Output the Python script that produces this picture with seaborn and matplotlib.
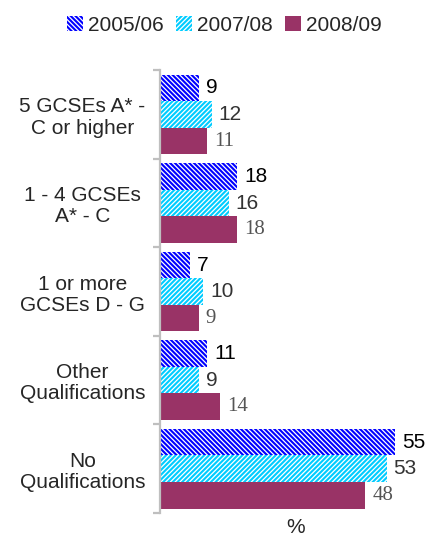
import matplotlib
matplotlib.use("Agg")
import matplotlib.pyplot as plt
from matplotlib.patches import Patch
import seaborn as sns
import pandas as pd

categories = [
    "5 GCSEs A* -\nC or higher",
    "1 - 4 GCSEs\nA* - C",
    "1 or more\nGCSEs D - G",
    "Other\nQualifications",
    "No\nQualifications",
]
years = ["2005/06", "2007/08", "2008/09"]
values_2005 = [9, 18, 7, 11, 55]
values_2007 = [12, 16, 10, 9, 53]
values_2008 = [11, 18, 9, 14, 48]

df = pd.DataFrame({
    "category": categories * 3,
    "year": [y for y in years for _ in categories],
    "value": values_2005 + values_2007 + values_2008,
})

sns.set_theme(style="white")
plt.rcParams["font.family"] = ["Liberation Sans", "DejaVu Sans"]
plt.rcParams["hatch.linewidth"] = 0.9

face_colors = {"2005/06": "#0000FF", "2007/08": "#00CCFF", "2008/09": "#993366"}
hatches = {"2005/06": "\\" * 7, "2007/08": "/" * 7, "2008/09": None}
label_styles = {
    "2005/06": dict(color="#000000", family="Liberation Sans"),
    "2007/08": dict(color="#333333", family="Liberation Sans"),
    "2008/09": dict(color="#555555", family="Liberation Serif"),
}

fig = plt.figure(figsize=(4.32, 5.40), dpi=100)
ax = fig.add_axes([0.371, 0.05, 0.593, 0.82])

sns.barplot(data=df, y="category", x="value", hue="year", hue_order=years,
            order=categories, orient="h", width=0.9, palette=face_colors,
            legend=False, ax=ax, saturation=1)

for year, container in zip(years, ax.containers):
    for bar in container:
        bar.set_facecolor(face_colors[year])
        if hatches[year]:
            bar.set_hatch(hatches[year])
            bar.set_edgecolor("white")
        else:
            bar.set_edgecolor(face_colors[year])
        bar.set_linewidth(0)
    ax.bar_label(container, labels=[f"{v:g}" for v in container.datavalues],
                 padding=5, fontsize=15, **label_styles[year])

ax.set_xlim(0, 60)
ax.set_ylim(len(categories) - 0.5, -0.5)
ax.set_xticks([])
ax.set_ylabel("")
ax.set_xlabel("%", fontsize=15)
ax.xaxis.set_label_coords(0.53, -0.012, transform=ax.transAxes)
ax.xaxis.label.set_verticalalignment("top")

for side in ("top", "right", "bottom"):
    ax.spines[side].set_visible(False)
ax.spines["left"].set_color("#BFBFBF")
ax.spines["left"].set_linewidth(1.6)

# tick marks sit between the categories, labels centred on each group
ax.set_yticks([i - 0.5 for i in range(len(categories) + 1)], minor=True)
ax.tick_params(axis="y", which="minor", length=5, width=1.6, color="#BFBFBF",
               direction="out", left=True)
ax.tick_params(axis="y", which="major", length=0, pad=56, labelsize=15)
for lbl in ax.get_yticklabels():
    lbl.set_horizontalalignment("center")
    lbl.set_multialignment("center")
    lbl.set_linespacing(1.15)

handles = []
for year in years:
    if hatches[year]:
        handles.append(Patch(facecolor=face_colors[year], edgecolor="white",
                             hatch=hatches[year], linewidth=0, label=year))
    else:
        handles.append(Patch(facecolor=face_colors[year], linewidth=0, label=year))
fig.legend(handles=handles, loc="upper center", bbox_to_anchor=(0.52, 1.005),
           ncol=3, frameon=False, fontsize=15, handlelength=0.75,
           handleheight=0.75, handletextpad=0.25, columnspacing=0.6)

fig.savefig("out.png", dpi=100)
